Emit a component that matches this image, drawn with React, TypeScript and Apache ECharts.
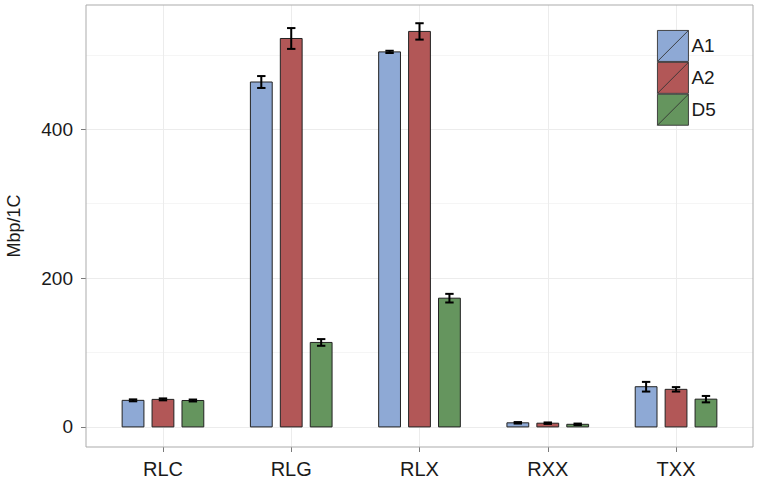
import React, { useEffect, useRef } from "react";
import * as echarts from "echarts";

const categories = ["RLC", "RLG", "RLX", "RXX", "TXX"];
const seriesNames = ["A1", "A2", "D5"];
const a1Values = [35.7, 463.5, 504, 5.5, 54];
const a2Values = [37, 522, 531.5, 5, 50.5];
const d5Values = [35.5, 113.5, 173, 3.5, 37.3];
const a1Errors = [1.3, 8, 1.5, 1, 6.5];
const a2Errors = [1.3, 14, 11, 1, 3];
const d5Errors = [1.3, 4.5, 5.8, 1, 4.3];
const seriesColors = ["#8EA9D5", "#B25757", "#65955E"];
const yMajorTicks = [0, 200, 400];
const yMinorTicks = [100, 300, 500];
const categoryTicks = [0, 1, 2, 3, 4];

const FONT = "'Liberation Sans', Arial, Helvetica, sans-serif";

export default function App() {
  const ref = useRef<HTMLDivElement>(null);
  useEffect(() => {
    if (!ref.current) return;
    const chart = echarts.init(ref.current, null, { renderer: "svg" });
    const valueSets = [a1Values, a2Values, d5Values];
    const errorSets = [a1Errors, a2Errors, d5Errors];
    const dodge = 0.7;
    const slot = dodge / 3;
    const barW = 0.17;

    const series = seriesNames.map((name, s) => ({
      type: "custom",
      name,
      itemStyle: { color: seriesColors[s], borderColor: "#333", borderWidth: 1 },
      data: valueSets[s].map((v, i) => [i, v, errorSets[s][i]]),
      encode: { x: 0, y: 1 },
      renderItem: (params: any, api: any) => {
        const cat = api.value(0);
        const v = api.value(1);
        const e = api.value(2);
        const cx = cat + (s - 1) * slot;
        const p0 = api.coord([cx - barW / 2, 0]);
        const p1 = api.coord([cx + barW / 2, v]);
        const pc = api.coord([cx, v]);
        const pHi = api.coord([cx, v + e]);
        const pLo = api.coord([cx, v - e]);
        const capHalf = 4.2;
        const errStyle = { stroke: "#000", lineWidth: 2 };
        return {
          type: "group",
          children: [
            {
              type: "rect",
              shape: { x: p0[0], y: p1[1], width: p1[0] - p0[0], height: p0[1] - p1[1] },
              style: { fill: seriesColors[s], stroke: "#222", lineWidth: 1 },
            },
            {
              type: "line",
              shape: { x1: pc[0], y1: pHi[1], x2: pc[0], y2: pLo[1] },
              style: errStyle,
            },
            {
              type: "line",
              shape: { x1: pc[0] - capHalf, y1: pHi[1], x2: pc[0] + capHalf, y2: pHi[1] },
              style: errStyle,
            },
            {
              type: "line",
              shape: { x1: pc[0] - capHalf, y1: pLo[1], x2: pc[0] + capHalf, y2: pLo[1] },
              style: errStyle,
            },
          ],
        };
      },
    }));

    chart.setOption({
      animation: false,
      backgroundColor: "#fff",
      grid: {
        left: 86,
        right: 6,
        top: 5,
        bottom: 36,
        containLabel: false,
        outerBoundsMode: "none",
        show: true,
        borderColor: "#ababab",
        borderWidth: 1,
        backgroundColor: "transparent",
        z: 10,
      },
      legend: {
        data: seriesNames,
        orient: "vertical",
        left: 657,
        top: 30,
        padding: 0,
        itemWidth: 31,
        itemHeight: 31,
        itemGap: 0,
        icon: "path://M0,0L1,0L1,1L0,1Z M0,1L1,0",
        selectedMode: false,
        itemStyle: { borderColor: "#333", borderWidth: 0.9 },
        textStyle: { fontFamily: FONT, fontSize: 19, color: "#1a1a1a", padding: [0, 0, 0, -2] },
      },
      xAxis: {
        type: "value",
        min: -0.6,
        max: 4.6,
        axisLine: { show: false, onZero: false },
        axisTick: {
          show: true,
          length: 5,
          lineStyle: { color: "#7a7a7a" },
          customValues: categoryTicks,
        },
        axisLabel: {
          customValues: categoryTicks,
          formatter: (v: number) => categories[Math.round(v)] ?? "",
          fontFamily: FONT,
          fontSize: 20,
          color: "#1a1a1a",
          margin: 12,
        },
        splitLine: { show: true, lineStyle: { color: "#ececec", width: 1 } },
      },
      yAxis: [
        {
          type: "value",
          min: -27,
          max: 567,
          name: "Mbp/1C",
          nameLocation: "middle",
          nameGap: 63,
          nameTextStyle: { fontFamily: FONT, fontSize: 18, color: "#1a1a1a" },
          axisLine: { show: false, onZero: false },
          axisTick: {
            show: true,
            length: 5,
            lineStyle: { color: "#7a7a7a" },
            customValues: yMajorTicks,
          },
          axisLabel: {
            customValues: yMajorTicks,
            fontFamily: FONT,
            fontSize: 19,
            color: "#1a1a1a",
            margin: 13,
          },
          splitLine: { show: true, lineStyle: { color: "#ececec", width: 1 } },
        },
        {
          type: "value",
          min: -27,
          max: 567,
          position: "left",
          axisLine: { show: false, onZero: false },
          axisTick: { show: false, customValues: yMinorTicks },
          axisLabel: { show: false },
          splitLine: { show: true, lineStyle: { color: "#f5f5f5", width: 1 } },
        },
      ],
      series,
    });
    return () => chart.dispose();
  }, []);
  return (
    <div
      ref={ref}
      style={{ position: "fixed", left: 0, top: 0, width: 759, height: 483, background: "#fff" }}
    />
  );
}
